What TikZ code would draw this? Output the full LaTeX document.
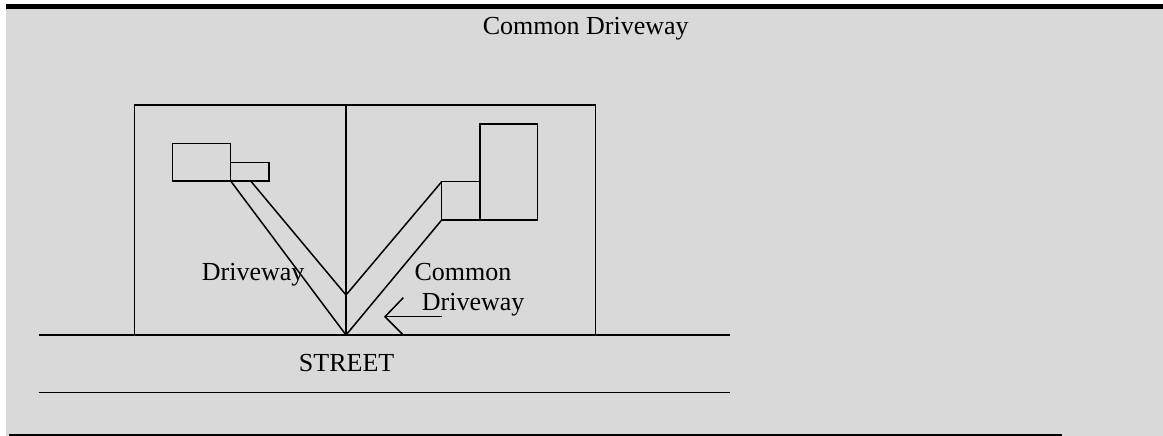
\documentclass[tikz,border=0pt]{standalone}
\usepackage{fontspec}
\setmainfont{Liberation Serif}
\definecolor{bggray}{HTML}{D9D9D9}
\begin{document}
\begin{tikzpicture}[x=1pt,y=-1pt,
  plan/.style={line width=1.5pt,black},
  lbl/.style={inner sep=0pt,font=\fontsize{26}{30}\selectfont}]
\useasboundingbox (0,0) rectangle (1163,436);
\fill[white] (0,0) rectangle (1163,436);
\fill[bggray] (6,9) rectangle (1163,436);
\fill[black] (6,4.5) rectangle (1163,9);
% title
\node[lbl,anchor=base] (title) at (585.8,34.3) {Common Driveway};
% lots
\draw[plan] (134.3,335) -- (134.3,105) -- (595.7,105) -- (595.7,335);
\draw[plan] (346,105) -- (346,335);
% left house and garage
\draw[plan] (172.7,143.3) rectangle (230.7,181);
\draw[plan] (230.7,162.3) rectangle (269,181);
% right house and garage
\draw[plan] (480,124) rectangle (537.7,220);
\draw[plan] (441.7,181.7) rectangle (480,220);
% left driveway
\draw[plan] (230.7,181) -- (346,335);
\draw[plan] (250.7,181) -- (346,295);
% right driveway
\draw[plan] (346,295) -- (441.7,181.7);
\draw[plan] (346,335) -- (441.7,220);
% arrow
\coordinate (tip) at (385,316.7);
\draw[plan] (441.7,316.7) -- (tip);
\draw[plan] (403.3,297.7) -- (tip) -- (403.3,335);
% labels
\node[lbl,anchor=base west] (dl) at (201.7,280.7) {Driveway};
\node[lbl,anchor=base west] (cd1) at (414.3,280.7) {Common};
\node[lbl,anchor=base west] (cd2) at (421.7,310) {Driveway};
% street
\draw[plan] (38.6,335) -- (730,335);
\draw[plan] (38.6,392.7) -- (730,392.7);
\node[lbl,anchor=base] (street) at (346.6,371.5) {STREET};
% bottom rule
\draw[line width=1.5pt] (9,434.8) -- (1062,434.8);
\end{tikzpicture}
\end{document}
